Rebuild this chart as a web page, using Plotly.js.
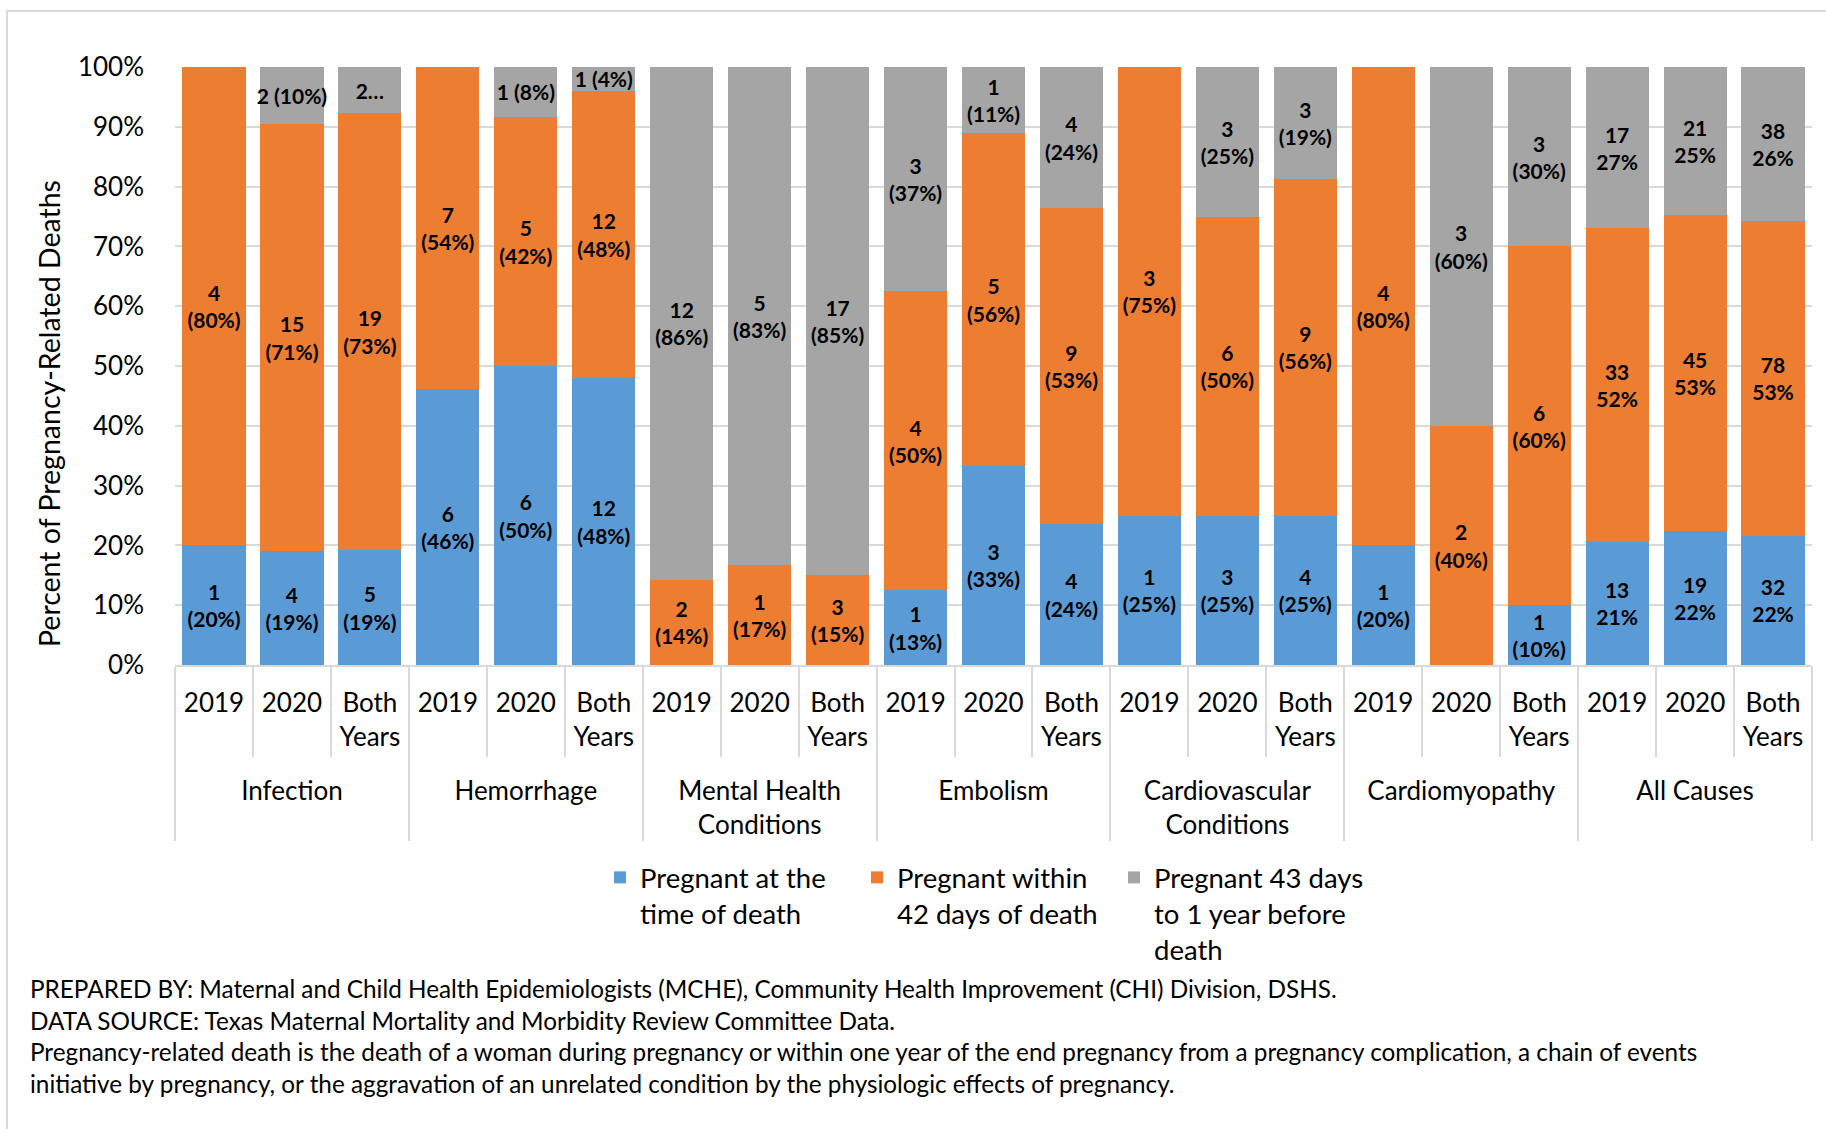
<!DOCTYPE html>
<html>
<head>
<meta charset="utf-8">
<script src="https://cdn.plot.ly/plotly-3.0.1.min.js"></script>
<style>
  html, body { margin: 0; padding: 0; background: #fff; }
  #chart { width: 1826px; height: 1129px; }
</style>
</head>
<body>
<div id="chart"></div>
<script>
// ---- Data ----
const groups = ['Infection', 'Hemorrhage', 'Mental Health<br>Conditions', 'Embolism',
                'Cardiovascular<br>Conditions', 'Cardiomyopathy', 'All Causes'];
// the last label carries a trailing blank line so the group labels sit one line lower
const periods = ['2019', '2020', 'Both<br>Years<br>\u00A0'];

// Counts of pregnancy-related deaths per bar (Infection 2019, 2020, Both, Hemorrhage ..., All Causes ...)
const atDeath    = [1, 4, 5,   6, 6, 12,   0, 0, 0,    1, 3, 4,   1, 3, 4,   1, 0, 1,   13, 19, 32];
const within42   = [4, 15, 19, 7, 5, 12,   2, 1, 3,    4, 5, 9,   3, 6, 9,   4, 2, 6,   33, 45, 78];
const days43to1y = [0, 2, 2,   0, 1, 1,    12, 5, 17,  3, 1, 4,   0, 3, 3,   0, 3, 3,   17, 21, 38];

// Percentages as printed in the labels
const pctAtDeath    = [20, 19, 19, 46, 50, 48, null, null, null, 13, 33, 24, 25, 25, 25, 20, null, 10, 21, 22, 22];
const pctWithin42   = [80, 71, 73, 54, 42, 48, 14, 17, 15, 50, 56, 53, 75, 50, 56, 80, 40, 60, 52, 53, 53];
const pctDays43to1y = [null, 10, 8, null, 8, 4, 86, 83, 85, 37, 11, 24, null, 25, 19, null, 60, 30, 27, 25, 26];

// How the small top labels are printed: 'inline' = "n (p%)", 'cut' = truncated "n…"
const grayLabelStyle = [null, 'inline', 'cut', null, 'inline', 'inline', null, null, null, null,
                        null, null, null, null, null, null, null, null, null, null, null];

const seriesNames = ['Pregnant at the<br>time of death', 'Pregnant within<br>42 days of death',
                     'Pregnant 43 days<br>to 1 year before<br>death'];
const seriesColors = ['#5B9BD5', '#ED7D31', '#A5A5A5'];

// ---- Build axes categories ----
const xOuter = [], xInner = [];
groups.forEach(g => periods.forEach(p => { xOuter.push(g); xInner.push(p); }));

function makeLabels(counts, pcts, styles) {
  return counts.map((n, i) => {
    if (!n) return '';
    const p = pcts[i];
    if (xOuter[i] === 'All Causes') return n + '<br>' + p + '%';
    const st = styles ? styles[i] : null;
    if (st === 'inline') return n + ' (' + p + '%)';
    if (st === 'cut') return n + '…';
    return n + '<br>(' + p + '%)';
  });
}

const seriesCounts = [atDeath, within42, days43to1y];
const seriesPcts = [pctAtDeath, pctWithin42, pctDays43to1y];
const seriesStyles = [null, null, grayLabelStyle];

const FONT = 'Lato, "Open Sans", sans-serif';

const traces = seriesCounts.map((counts, k) => ({
  type: 'bar',
  name: seriesNames[k],
  x: [xOuter, xInner],
  y: counts,
  marker: { color: seriesColors[k] },
  text: makeLabels(counts, seriesPcts[k], seriesStyles[k]),
  textposition: 'inside',
  insidetextanchor: 'middle',
  textangle: 0,
  constraintext: 'none',
  textfont: { family: FONT, size: 21, color: '#000000', weight: 'bold' },
  hoverinfo: 'skip'
}));

const PL = 175, PR = 1812, PT = 67, PB = 665;
const pw = PR - PL, ph = PB - PT;
const px = v => (v - PL) / pw;
const py = v => (PB - v) / ph;

const layout = {
  width: 1826, height: 1129,
  margin: { l: PL, r: 1826 - PR, t: PT, b: 1129 - PB, pad: 0 },
  paper_bgcolor: '#ffffff', plot_bgcolor: '#ffffff',
  barmode: 'stack', barnorm: 'percent', bargap: 0.19,
  font: { family: FONT, size: 26, color: '#000000' },
  uniformtext: { mode: 'show', minsize: 21 },
  showlegend: true,
  legend: {
    orientation: 'h', x: px(600), xanchor: 'left', y: py(853), yanchor: 'top',
    valign: 'top', font: { family: FONT, size: 27.5, color: '#000000' },
    entrywidth: 212, entrywidthmode: 'pixels', traceorder: 'normal',
    bgcolor: 'rgba(0,0,0,0)'
  },
  xaxis: {
    type: 'multicategory',
    tickfont: { family: FONT, size: 26, color: '#000000' },
    showline: true, linecolor: '#D9D9D9', linewidth: 2,
    ticks: 'outside', tickson: 'boundaries', ticklen: 90, tickwidth: 2, tickcolor: '#D9D9D9',
    ticklabelstandoff: 14,
    showdividers: true, dividercolor: '#D9D9D9', dividerwidth: 2,
    showgrid: false, zeroline: false, fixedrange: true
  },
  yaxis: {
    range: [0, 100], tickmode: 'array',
    tickvals: [0, 10, 20, 30, 40, 50, 60, 70, 80, 90, 100],
    ticktext: ['0%', '10%', '20%', '30%', '40%', '50%', '60%', '70%', '80%', '90%', '100%'],
    tickfont: { family: FONT, size: 26, color: '#000000' },
    showgrid: true, gridcolor: '#D9D9D9', gridwidth: 2,
    zeroline: false, showline: false, ticks: '', ticklabelstandoff: 30, fixedrange: true
  },
  annotations: [
    {
      xref: 'paper', yref: 'paper', x: px(49), y: py(414), xanchor: 'center', yanchor: 'middle',
      text: 'Percent of Pregnancy-Related Deaths', textangle: -90, showarrow: false,
      font: { family: FONT, size: 28.5, color: '#000000' }
    },
    {
      xref: 'paper', yref: 'paper', x: px(28), y: py(972), xanchor: 'left', yanchor: 'top', align: 'left',
      showarrow: false,
      font: { family: FONT, size: 24.3, color: '#000000' },
      text: 'PREPARED BY: Maternal and Child Health Epidemiologists (MCHE), Community Health Improvement (CHI) Division, DSHS.<br>' +
            'DATA SOURCE: Texas Maternal Mortality and Morbidity Review Committee Data.<br>' +
            'Pregnancy-related death is the death of a woman during pregnancy or within one year of the end pregnancy from a pregnancy complication, a chain of events<br>' +
            'initiative by pregnancy, or the aggravation of an unrelated condition by the physiologic effects of pregnancy.'
    }
  ],
  shapes: [
    {
      type: 'rect', xref: 'paper', yref: 'paper', layer: 'below',
      x0: px(7), x1: px(1840), y0: py(11), y1: py(1140),
      line: { color: '#D9D9D9', width: 2 }, fillcolor: 'rgba(0,0,0,0)'
    }
  ]
};

Plotly.newPlot('chart', traces, layout, { displayModeBar: false, staticPlot: true });
</script>
</body>
</html>
